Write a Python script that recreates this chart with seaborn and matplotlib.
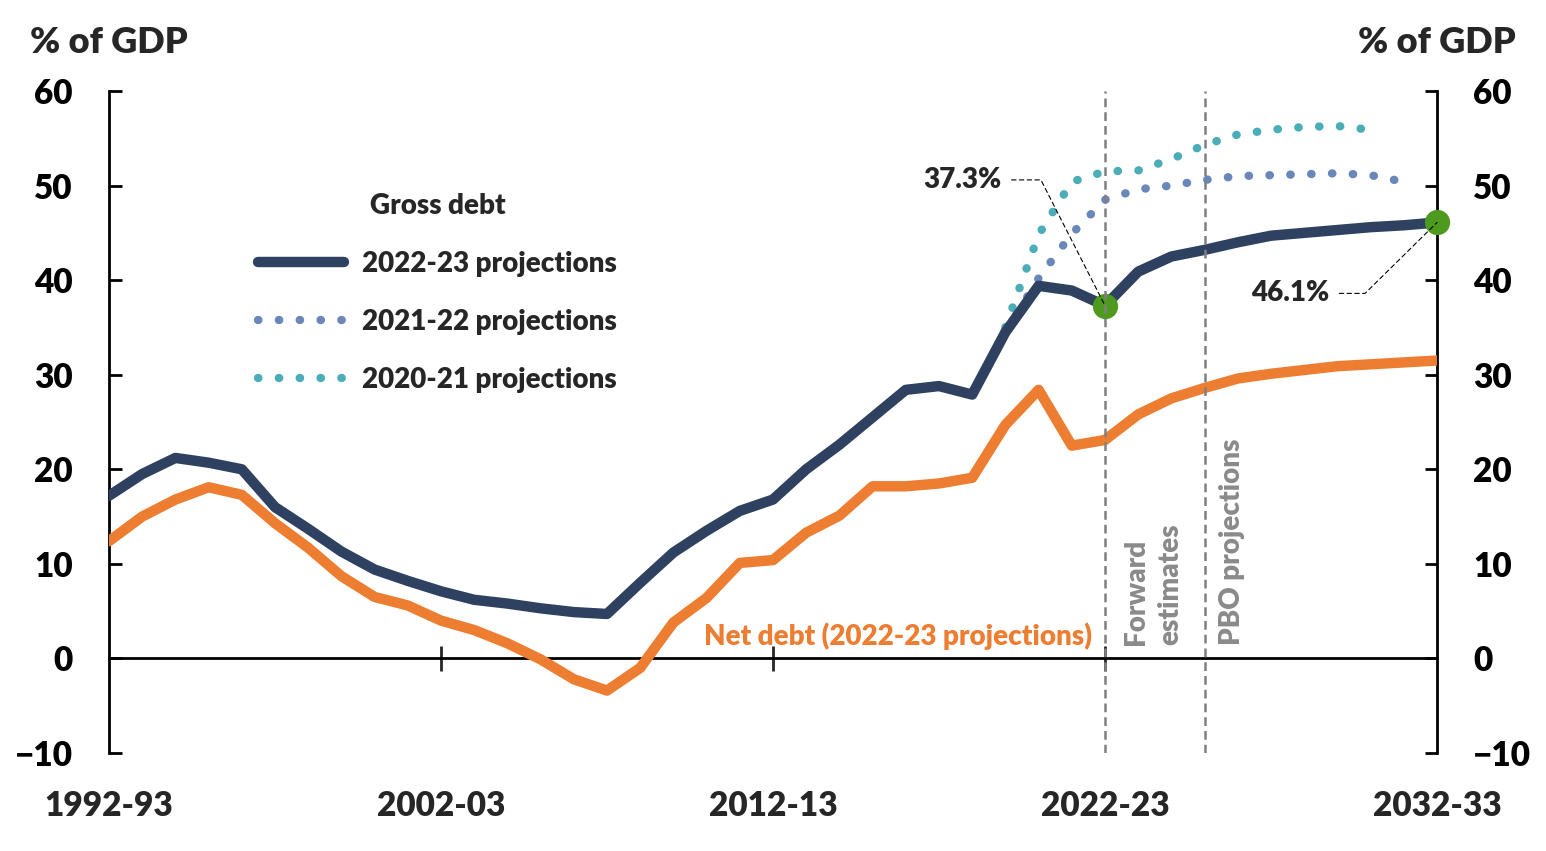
import numpy as np
import pandas as pd
import matplotlib
matplotlib.use('Agg')
import matplotlib.pyplot as plt
import seaborn as sns

# Datos (ano de inicio del ejercicio fiscal)
years = list(range(1992, 2033))
gross_2223 = [17.2, 19.5, 21.2, 20.7, 20.0, 16.0, 13.7, 11.3, 9.4, 8.2,
              7.1, 6.2, 5.8, 5.3, 4.9, 4.7, 8.0, 11.2, 13.5, 15.6,
              16.8, 20.0, 22.6, 25.5, 28.4, 28.8, 27.9, 34.5, 39.4, 38.9,
              37.3, 40.9, 42.5, 43.2, 44.0, 44.7, 45.0, 45.3, 45.6, 45.8,
              46.1]
net_2223 = [12.4, 15.0, 16.8, 18.1, 17.3, 14.3, 11.7, 8.7, 6.5, 5.6,
            4.0, 3.0, 1.6, -0.1, -2.2, -3.4, -1.0, 3.8, 6.4, 10.1,
            10.4, 13.3, 15.1, 18.2, 18.2, 18.5, 19.1, 24.7, 28.4, 22.5,
            23.1, 25.8, 27.5, 28.6, 29.6, 30.1, 30.5, 30.9, 31.1, 31.3,
            31.5]
years_2122 = list(range(2019, 2032))
gross_2122 = [34.5, 40.2, 44.9, 48.5, 49.6, 50.0, 50.6, 51.0, 51.1, 51.2,
              51.3, 51.1, 50.4]
years_2021 = list(range(2019, 2031))
gross_2021 = [35.0, 44.8, 50.4, 51.5, 51.6, 52.8, 54.3, 55.4, 55.9, 56.2,
              56.3, 55.9]

tick_years = [1992, 2002, 2012, 2022, 2032]
tick_labels = ['1992-93', '2002-03', '2012-13', '2022-23', '2032-33']
highlight_years = [2022, 2032]
highlight_values = [37.3, 46.1]
fe_start, pbo_start = 2022, 2025

navy = '#2E4160'
orange = '#ED7D31'
blue = '#6A87BA'
teal = '#4BADB7'
green = '#4E9A1E'
grey = '#8A8A8A'

sns.set_style('white')
plt.rcParams['font.family'] = ['Lato', 'DejaVu Sans']
plt.rcParams['font.weight'] = 'heavy'
W = 'heavy'

fig = plt.figure(figsize=(15.46, 8.51), dpi=100)
ax = fig.add_axes([109 / 1546, 98 / 851, 1328 / 1546, 662 / 851])

dotted = (0, (0.05, 2.45))
sns.lineplot(x=years_2021, y=gross_2021, ax=ax, color=teal, lw=6,
             label='2020-21 projections', zorder=3)
ax.lines[-1].set_linestyle(dotted)
ax.lines[-1].set_dash_capstyle('round')
sns.lineplot(x=years_2122, y=gross_2122, ax=ax, color=blue, lw=6,
             label='2021-22 projections', zorder=3)
ax.lines[-1].set_linestyle(dotted)
ax.lines[-1].set_dash_capstyle('round')
sns.lineplot(x=years, y=gross_2223, ax=ax, color=navy, lw=7.5,
             label='2022-23 projections', zorder=4)
sns.lineplot(x=years, y=net_2223, ax=ax, color=orange, lw=7.5, zorder=4)

ax.scatter(highlight_years, highlight_values, s=330, color=green,
           zorder=6, clip_on=False, linewidths=0)

for xv in (fe_start, pbo_start):
    ax.axvline(xv, color='#808080', lw=1.8, linestyle=(0, (3.5, 2)), zorder=7)

ax.set_xlim(1992, 2032)
ax.set_ylim(-10, 60)
ax.set_yticks(range(-10, 61, 10))

# eje x en cero con marcas, etiquetas abajo
ax.spines['top'].set_visible(False)
for s in ['left', 'right', 'bottom']:
    ax.spines[s].set_color('black')
    ax.spines[s].set_linewidth(2)
ax.spines['bottom'].set_position(('data', 0))
ax.set_xticks([2002, 2012, 2022])
ax.tick_params(axis='x', direction='inout', length=18, width=2,
               labelbottom=False, bottom=True)
ax.tick_params(axis='y', direction='in', length=9, width=2, left=True,
               right=True, labelleft=True, labelright=True, labelsize=24,
               pad=26, colors='black')

sec = ax.secondary_xaxis('bottom')
sec.set_xticks(tick_years, tick_labels)
sec.tick_params(length=0, pad=27, labelsize=24)
sec.spines['bottom'].set_visible(False)

ax.text(0, 1.073, '% of GDP', transform=ax.transAxes, ha='center',
        va='center', fontsize=26, fontweight=W)
ax.text(1, 1.073, '% of GDP', transform=ax.transAxes, ha='center',
        va='center', fontsize=26, fontweight=W)

handles, labels = ax.get_legend_handles_labels()
order = [labels.index(n) for n in ['2022-23 projections', '2021-22 projections', '2020-21 projections']]
ax.legend([handles[i] for i in order], [labels[i] for i in order],
          title='Gross debt', loc='upper left', frameon=False,
          bbox_to_anchor=(247 / 1546, 669 / 851), bbox_transform=fig.transFigure,
          borderaxespad=0, fontsize=20, title_fontsize=20,
          handlelength=3.1, handletextpad=0.65, labelspacing=1.15)
ax.get_legend().get_title().set_fontweight(W)

ax.text(2021.6, 2.4, 'Net debt (2022-23 projections)', color=orange,
        fontsize=20, fontweight=W, ha='right', va='center', zorder=8)
ax.text(2023.45, 1.4, 'Forward\nestimates', color=grey, fontsize=20,
        fontweight=W, rotation=90, ha='center', va='bottom',
        multialignment='left', linespacing=1.4)
ax.text(2025.83, 1.4, 'PBO projections', color=grey, fontsize=20,
        fontweight=W, rotation=90, ha='center', va='bottom')

leader = dict(arrowstyle='-', color='black', lw=0.8, linestyle=(0, (4, 3)),
              shrinkA=5, shrinkB=0, relpos=(1, 0.5))
ax.annotate('37.3%', xy=(highlight_years[0], highlight_values[0]),
            xytext=(2017.7, 50.6), fontsize=20, fontweight=W,
            ha='center', va='center', zorder=9,
            arrowprops=dict(leader, connectionstyle='angle,angleA=0,angleB=117,rad=0'))
ax.annotate('46.1%', xy=(highlight_years[1], highlight_values[1]),
            xytext=(2027.57, 38.6), fontsize=20, fontweight=W,
            ha='center', va='center', zorder=9,
            arrowprops=dict(leader, connectionstyle='angle,angleA=0,angleB=44.6,rad=0'))

fig.savefig('out.png', dpi=100)
